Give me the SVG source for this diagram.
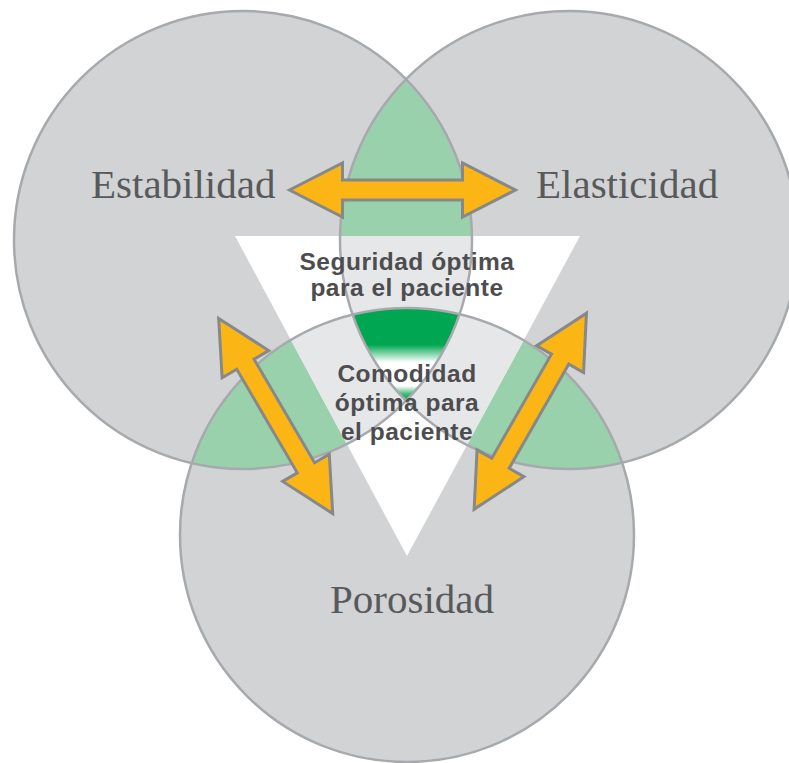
<svg xmlns="http://www.w3.org/2000/svg" xmlns:xlink="http://www.w3.org/1999/xlink" width="789" height="763" viewBox="0 0 789 763">
  <style>
    .fill { fill: #d1d3d4; }
    .outline { fill: none; stroke: #a7a9ac; stroke-width: 2.5; }
    .pair { fill: #99d1ad; }
    .pair-in { fill: #e6e7e8; }
    .arrow { fill: #fbb616; stroke: #87888a; stroke-width: 3; stroke-linejoin: miter; }
    .big { font-family: "Liberation Serif", "Times New Roman", serif; font-size: 41px; fill: #58595b; }
    .bold { font-family: "Liberation Sans", Arial, sans-serif; font-size: 24.5px; font-weight: bold; fill: #4d4d4f; letter-spacing: 0.5px; text-anchor: middle; }
  </style>
  <defs>
    <clipPath id="clipL"><circle cx="243" cy="240" r="229"/></clipPath>
    <clipPath id="clipR"><circle cx="569" cy="240" r="229"/></clipPath>
    <clipPath id="clipB"><circle cx="407" cy="535" r="227"/></clipPath>
    <clipPath id="clipTri"><polygon points="235,236 580,236 407,556"/></clipPath>
    <linearGradient id="tripleGrad" gradientUnits="userSpaceOnUse" x1="0" y1="305" x2="0" y2="402">
      <stop offset="0" stop-color="#00a651"/>
      <stop offset="0.41" stop-color="#00a651"/>
      <stop offset="0.59" stop-color="#ffffff"/>
      <stop offset="0.835" stop-color="#ffffff"/>
      <stop offset="0.92" stop-color="#3db874"/>
      <stop offset="1" stop-color="#00a651"/>
    </linearGradient>
    <path id="arrowShape" d="M-113,0 L-60,-27 L-60,-10 L60,-10 L60,-27 L113,0 L60,27 L60,10 L-60,10 L-60,27 Z"/>
  </defs>

  <rect width="789" height="763" fill="#ffffff"/>

  <g id="venn-fills">
    <circle class="fill" cx="243" cy="240" r="229"/>
    <circle class="fill" cx="569" cy="240" r="229"/>
    <circle class="fill" cx="407" cy="535" r="227"/>
    <!-- pairwise overlaps -->
    <circle class="pair" cx="569" cy="240" r="229" clip-path="url(#clipL)"/>
    <circle class="pair" cx="407" cy="535" r="227" clip-path="url(#clipL)"/>
    <circle class="pair" cx="407" cy="535" r="227" clip-path="url(#clipR)"/>
    <!-- central triangle -->
    <polygon points="235,236 580,236 407,556" fill="#ffffff"/>
    <g clip-path="url(#clipTri)">
      <circle class="pair-in" cx="569" cy="240" r="229" clip-path="url(#clipL)"/>
      <circle class="pair-in" cx="407" cy="535" r="227" clip-path="url(#clipL)"/>
      <circle class="pair-in" cx="407" cy="535" r="227" clip-path="url(#clipR)"/>
      <g clip-path="url(#clipL)">
        <circle cx="407" cy="535" r="227" fill="url(#tripleGrad)" clip-path="url(#clipR)"/>
      </g>
    </g>
  </g>

  <g id="node-estabilidad">
    <circle class="outline" cx="243" cy="240" r="229"/>
    <text class="big" x="91" y="198">Estabilidad</text>
  </g>
  <g id="node-elasticidad">
    <circle class="outline" cx="569" cy="240" r="229"/>
    <text class="big" x="536" y="198">Elasticidad</text>
  </g>
  <g id="node-porosidad">
    <circle class="outline" cx="407" cy="535" r="227"/>
    <text class="big" x="330" y="613">Porosidad</text>
  </g>

  <g id="connectors">
    <use href="#arrowShape" xlink:href="#arrowShape" class="arrow" transform="translate(402.5,190)"/>
    <use href="#arrowShape" xlink:href="#arrowShape" class="arrow" transform="translate(275.7,416) rotate(59.7)"/>
    <use href="#arrowShape" xlink:href="#arrowShape" class="arrow" transform="translate(530.3,411.2) rotate(-60.2)"/>
  </g>

  <g id="node-seguridad">
    <text class="bold" x="407" y="269.5">Seguridad óptima</text>
    <text class="bold" x="407" y="296">para el paciente</text>
  </g>
  <g id="node-comodidad">
    <text class="bold" x="407" y="382">Comodidad</text>
    <text class="bold" x="407" y="411">óptima para</text>
    <text class="bold" x="407" y="440">el paciente</text>
  </g>
</svg>
